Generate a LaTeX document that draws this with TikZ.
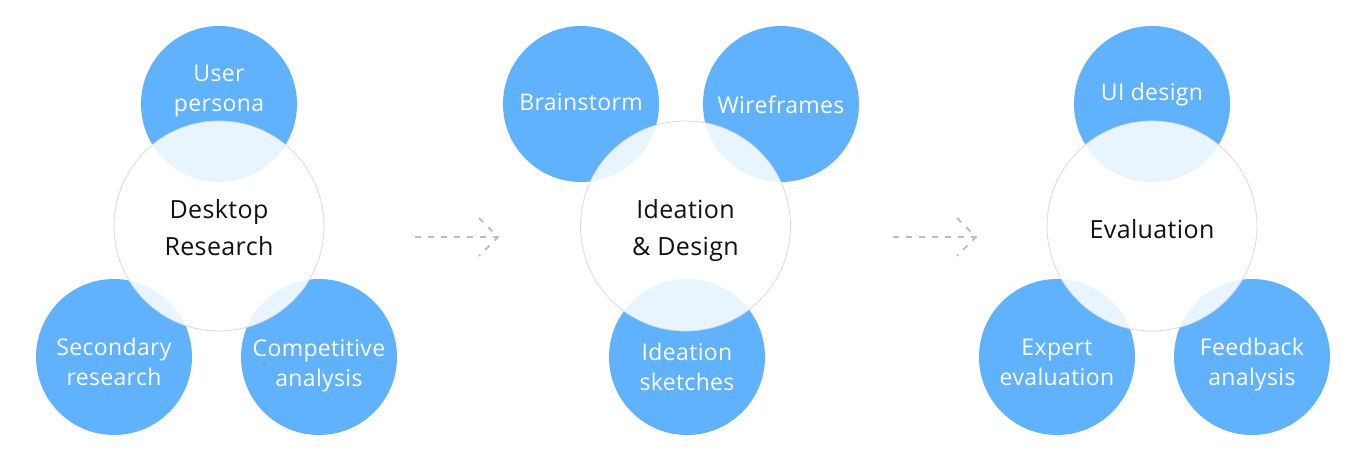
\documentclass[tikz,border=0pt]{standalone}
\usepackage{fontspec}
\setmainfont[LetterSpace=1.5]{Open Sans}
\definecolor{bblue}{RGB}{96,178,252}
\definecolor{hubline}{RGB}{218,218,218}
\definecolor{txtblack}{RGB}{17,17,17}
\definecolor{arrgray}{RGB}{190,190,190}
\begin{document}
\begin{tikzpicture}[x=1pt,y=-1pt,
  bub/.style={circle,fill=bblue,draw=none,minimum size=156pt,inner sep=0pt},
  hub/.style={circle,fill=white,fill opacity=0.86,draw=hubline,draw opacity=1,line width=0.8pt,minimum size=210pt,inner sep=0pt},
  wlbl/.style={text=white,font=\fontsize{23}{30}\selectfont,align=center,inner sep=0pt},
  hlbl/.style={text=txtblack,font=\fontsize{25}{37}\selectfont,align=center,inner sep=0pt},
  flow/.style={draw=arrgray,line width=1.8pt,dash pattern=on 6pt off 7pt}]
\useasboundingbox (0,0) rectangle (1366,470);
% group 1
\node[bub] (up) at (219,104) {};
\node[bub] (sr) at (114,357) {};
\node[bub] (ca) at (319,357) {};
\node[hub] (dr) at (219,226) {};
\node[wlbl] (upl) at (219,91) {\strut User\\\strut persona};
\node[wlbl] (srl) at (114,364) {\strut Secondary\\\strut research};
\node[wlbl] (cal) at (319,366) {\strut Competitive\\\strut analysis};
\node[hlbl] (drl) at (219,230) {\strut Desktop\\\strut Research};
% group 2
\node[bub] (bs) at (581,104) {};
\node[bub] (wf) at (781,104) {};
\node[bub] (is) at (687,357) {};
\node[hub] (id) at (685.5,226) {};
\node[wlbl] (bsl) at (581,105) {\strut Brainstorm};
\node[wlbl] (wfl) at (781,108) {\strut Wireframes};
\node[wlbl] (isl) at (687,369.5) {\strut Ideation\\\strut sketches};
\node[hlbl] (idl) at (685.5,230) {\strut Ideation\\\strut \& Design};
% group 3
\node[bub] (ui) at (1152,104) {};
\node[bub] (ee) at (1057,357) {};
\node[bub] (fa) at (1252,357) {};
\node[hub] (ev) at (1152,226) {};
\node[wlbl] (uil) at (1152,95) {\strut UI design};
\node[wlbl] (eel) at (1057,364.5) {\strut Expert\\\strut evaluation};
\node[wlbl] (fal) at (1252,364.5) {\strut Feedback\\\strut analysis};
\node[hlbl] (evl) at (1152,231.5) {\strut Evaluation};
% arrows
\coordinate (a1s) at (415,237);
\coordinate (a1e) at (498,237);
\coordinate (a2s) at (893,237);
\coordinate (a2e) at (976,237);
\draw[flow] (a1s) -- (a1e);
\draw[flow] ([shift={(-19,-19)}]a1e) -- (a1e) -- ([shift={(-19,19)}]a1e);
\draw[flow] (a2s) -- (a2e);
\draw[flow] ([shift={(-19,-19)}]a2e) -- (a2e) -- ([shift={(-19,19)}]a2e);
\end{tikzpicture}
\end{document}
